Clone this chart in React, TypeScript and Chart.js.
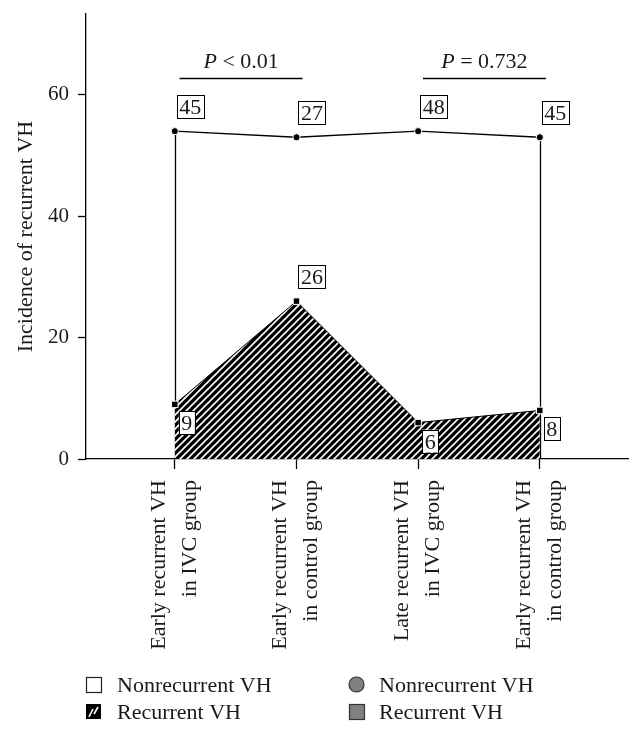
import React, { useEffect, useRef } from "react";
import { Chart, registerables } from "chart.js";

Chart.register(...registerables);

const FONT = "'Liberation Serif', 'DejaVu Serif', serif";
const TEXT = "#1a1a1a";

const categories: string[][] = [
  ["Early recurrent VH", "in IVC group"],
  ["Early recurrent VH", "in control group"],
  ["Late recurrent VH", "in IVC group"],
  ["Early recurrent VH", "in control group"],
];
const recurrentVH = [9, 26, 6, 8];
const nonrecurrentVH = [45, 27, 48, 45];
const recurrentLabelAbove = [false, true, false, false];
const yTicks = [0, 20, 40, 60];
const yMax = 73.3;
const comparisons = [
  { from: 0, to: 1, text: "< 0.01", level: 62.8 },
  { from: 2, to: 3, text: "= 0.732", level: 62.8 },
];
const legendLeft = ["Nonrecurrent VH", "Recurrent VH"];
const legendRight = ["Nonrecurrent VH", "Recurrent VH"];
const yTitle = "Incidence of recurrent VH";

function makeHatch(ctx: CanvasRenderingContext2D): CanvasPattern | string {
  const s = 7;
  const c = document.createElement("canvas");
  c.width = s;
  c.height = s;
  const g = c.getContext("2d");
  if (!g) return "#000";
  g.fillStyle = "#000";
  g.fillRect(0, 0, s, s);
  g.strokeStyle = "#fff";
  g.lineWidth = 1.6;
  g.beginPath();
  g.moveTo(-1, s + 1);
  g.lineTo(s + 1, -1);
  g.moveTo(-1, 1);
  g.lineTo(1, -1);
  g.moveTo(s - 1, s + 1);
  g.lineTo(s + 1, s - 1);
  g.stroke();
  return ctx.createPattern(c, "repeat") || "#000";
}

function drawBox(ctx: CanvasRenderingContext2D, text: string, left: number, top: number) {
  ctx.save();
  ctx.font = `22px ${FONT}`;
  const w = Math.round(ctx.measureText(text).width + 5);
  const h = 23;
  ctx.fillStyle = "#fff";
  ctx.fillRect(left, top, w, h);
  ctx.strokeStyle = "#000";
  ctx.lineWidth = 1;
  ctx.strokeRect(Math.round(left) + 0.5, Math.round(top) + 0.5, w, h);
  ctx.fillStyle = TEXT;
  ctx.textBaseline = "alphabetic";
  ctx.textAlign = "left";
  ctx.fillText(text, left + 2.5, top + 19);
  ctx.restore();
}

const annotations = {
  id: "annotations",
  beforeDatasetsDraw(chart: any) {
    const ctx = chart.ctx as CanvasRenderingContext2D;
    const xs = chart.scales.x;
    const ys = chart.scales.y;
    const top = chart.getDatasetMeta(1).data;
    ctx.save();
    ctx.strokeStyle = "#000";
    ctx.lineWidth = 1.3;
    [0, categories.length - 1].forEach((i) => {
      const x = Math.round(xs.getPixelForValue(i)) + 0.5;
      ctx.beginPath();
      ctx.moveTo(x, ys.getPixelForValue(0));
      ctx.lineTo(x, top[i].y);
      ctx.stroke();
    });
    ctx.restore();
  },
  afterDraw(chart: any) {
    const ctx = chart.ctx as CanvasRenderingContext2D;
    const xs = chart.scales.x;
    const ys = chart.scales.y;
    const bottomPts = chart.getDatasetMeta(0).data;
    const topPts = chart.getDatasetMeta(1).data;

    // category labels (rotated)
    ctx.save();
    ctx.font = `22px ${FONT}`;
    ctx.fillStyle = TEXT;
    ctx.textAlign = "right";
    ctx.textBaseline = "middle";
    const labelTop = ys.getPixelForValue(0) + 21;
    categories.forEach((lines, i) => {
      const px = xs.getPixelForValue(i);
      ctx.save();
      ctx.translate(px, labelTop);
      ctx.rotate(-Math.PI / 2);
      lines.forEach((ln, j) => {
        ctx.fillText(ln, 0, j === 0 ? -16 : 15);
      });
      ctx.restore();
    });
    ctx.restore();

    // value boxes
    nonrecurrentVH.forEach((v, i) => {
      const p = topPts[i];
      drawBox(ctx, String(v), p.x + 2, p.y - 36);
    });
    recurrentVH.forEach((v, i) => {
      const p = bottomPts[i];
      if (recurrentLabelAbove[i]) drawBox(ctx, String(v), p.x + 2, p.y - 36);
      else drawBox(ctx, String(v), p.x + 4, p.y + 7);
    });

    // comparison brackets
    comparisons.forEach((c) => {
      const x1 = xs.getPixelForValue(c.from + 0.04);
      const x2 = xs.getPixelForValue(c.to + 0.05);
      const y = Math.round(ys.getPixelForValue(c.level)) + 0.5;
      ctx.save();
      ctx.strokeStyle = "#000";
      ctx.lineWidth = 1.3;
      ctx.beginPath();
      ctx.moveTo(x1, y);
      ctx.lineTo(x2, y);
      ctx.stroke();
      ctx.font = `italic 22px ${FONT}`;
      const wP = ctx.measureText("P").width;
      ctx.font = `22px ${FONT}`;
      const rest = " " + c.text;
      const wR = ctx.measureText(rest).width;
      const start = (x1 + x2) / 2 - (wP + wR) / 2;
      ctx.fillStyle = TEXT;
      ctx.textBaseline = "alphabetic";
      ctx.textAlign = "left";
      ctx.font = `italic 22px ${FONT}`;
      ctx.fillText("P", start, y - 11);
      ctx.font = `22px ${FONT}`;
      ctx.fillText(rest, start + wP, y - 11);
      ctx.restore();
    });

    // legend
    ctx.save();
    ctx.font = `22px ${FONT}`;
    ctx.fillStyle = TEXT;
    ctx.textBaseline = "alphabetic";
    ctx.textAlign = "left";
    const rows = [684, 711];
    const col1 = chart.chartArea.left;
    const col2 = (chart.chartArea.left + chart.chartArea.right) / 2 - 8;
    ctx.strokeStyle = "#222";
    ctx.lineWidth = 1.2;
    ctx.fillStyle = "#fff";
    ctx.fillRect(col1, rows[0] - 15, 15, 15);
    ctx.strokeRect(col1 + 0.5, rows[0] - 15 + 0.5, 15, 15);
    ctx.fillStyle = "#000";
    ctx.fillRect(col1, rows[1] - 15, 15, 15);
    ctx.strokeStyle = "#fff";
    ctx.lineWidth = 1.6;
    ctx.beginPath();
    ctx.moveTo(col1 + 3, rows[1] - 2);
    ctx.lineTo(col1 + 7, rows[1] - 10);
    ctx.moveTo(col1 + 8, rows[1] - 5);
    ctx.lineTo(col1 + 12, rows[1] - 12);
    ctx.stroke();
    ctx.fillStyle = "#808080";
    ctx.strokeStyle = "#333";
    ctx.lineWidth = 1.2;
    ctx.beginPath();
    ctx.arc(col2 + 7.5, rows[0] - 7.5, 7.5, 0, Math.PI * 2);
    ctx.fill();
    ctx.stroke();
    ctx.fillRect(col2, rows[1] - 15, 15, 15);
    ctx.strokeRect(col2 + 0.5, rows[1] - 15 + 0.5, 15, 15);
    ctx.fillStyle = TEXT;
    legendLeft.forEach((t, i) => ctx.fillText(t, col1 + 31, rows[i]));
    legendRight.forEach((t, i) => ctx.fillText(t, col2 + 30, rows[i]));
    ctx.restore();
  },
};

export default function App() {
  const ref = useRef<HTMLCanvasElement | null>(null);

  useEffect(() => {
    const canvas = ref.current;
    if (!canvas) return;
    const ctx = canvas.getContext("2d");
    if (!ctx) return;
    const hatch = makeHatch(ctx);

    const chart = new Chart(canvas, {
      type: "line",
      data: {
        datasets: [
          {
            label: "Recurrent VH",
            data: recurrentVH.map((v, i) => ({ x: i, y: v })),
            fill: "origin",
            backgroundColor: hatch as any,
            borderColor: "#000",
            borderWidth: 1,
            tension: 0,
            pointStyle: "rect",
            pointRadius: 4.6,
            pointBackgroundColor: "#000",
            pointBorderColor: "#fff",
            pointBorderWidth: 1,
          },
          {
            label: "Nonrecurrent VH",
            data: nonrecurrentVH.map((v, i) => ({ x: i, y: v })),
            fill: false,
            borderColor: "#000",
            borderWidth: 1.3,
            tension: 0,
            pointStyle: "circle",
            pointRadius: 3.6,
            pointBackgroundColor: "#000",
            pointBorderColor: "#fff",
            pointBorderWidth: 1,
          },
        ],
      },
      options: {
        animation: false,
        responsive: false,
        devicePixelRatio: 1,
        layout: { padding: { top: 6, right: 6, left: 0, bottom: 0 } },
        plugins: {
          legend: { display: false },
          tooltip: { enabled: false },
        },
        scales: {
          x: {
            type: "linear",
            min: -0.73,
            max: 3.725,
            afterBuildTicks: (s: any) => {
              s.ticks = categories.map((_, i) => ({ value: i }));
            },
            afterFit: (s: any) => {
              s.height = 268;
              s.paddingLeft = 0;
              s.paddingRight = 0;
            },
            ticks: { display: false },
            grid: {
              drawOnChartArea: false,
              drawTicks: true,
              tickLength: 10,
              tickWidth: 1.3,
              tickColor: "#000",
            },
            border: { color: "#000", width: 1.3 },
          },
          y: {
            stacked: true,
            min: 0,
            max: yMax,
            afterBuildTicks: (s: any) => {
              s.ticks = yTicks.map((v) => ({ value: v }));
            },
            afterFit: (s: any) => {
              s.width = 78;
              s.paddingTop = 0;
              s.paddingBottom = 0;
            },
            ticks: {
              padding: 9,
              color: TEXT,
              font: { family: FONT, size: 21 },
            },
            grid: {
              drawOnChartArea: false,
              drawTicks: true,
              tickLength: 8,
              tickWidth: 1.3,
              tickColor: "#000",
            },
            border: { color: "#000", width: 1.3 },
            title: {
              display: true,
              text: yTitle,
              color: TEXT,
              font: { family: FONT, size: 22 },
              padding: { top: 5, bottom: 4 },
            },
          },
        },
      },
      plugins: [annotations],
    });

    return () => chart.destroy();
  }, []);

  return (
    <div style={{ width: 626, height: 719, position: "relative" }}>
      <canvas ref={ref} width={626} height={719} style={{ display: "block", width: 626, height: 719 }} />
    </div>
  );
}
